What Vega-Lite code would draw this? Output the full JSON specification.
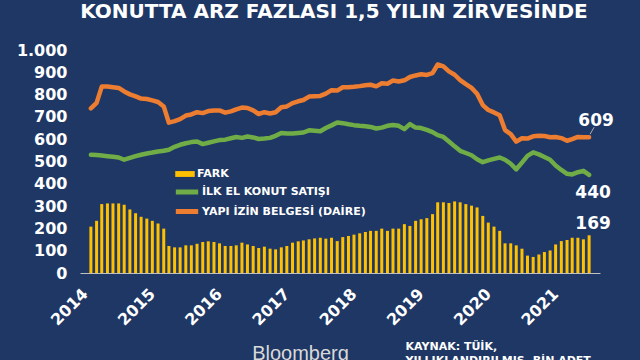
{
  "$schema": "https://vega.github.io/schema/vega-lite/v6.json",
  "autosize": {"type": "none"},
  "width": 520,
  "height": 223,
  "padding": {"left": 80, "top": 50, "right": 40, "bottom": 87},
  "background": "#1e3765",
  "title": {
    "text": "KONUTTA ARZ FAZLASI 1,5 YILIN ZİRVESİNDE",
    "font": "DejaVu Sans",
    "fontSize": 20,
    "fontWeight": "bold",
    "color": "white",
    "anchor": "middle",
    "dx": -6,
    "offset": 20
  },
  "config": {
    "view": {"stroke": null},
    "font": "DejaVu Sans",
    "axis": {"labelOverlap": false},
    "axisY": {"labelOverlap": false, "tickCount": 11}
  },
  "data": {
    "values": [
      {"d": "2014-01", "fark": 208, "satis": 530, "izin": 738},
      {"d": "2014-02", "fark": 234, "satis": 529, "izin": 763},
      {"d": "2014-03", "fark": 309, "satis": 527, "izin": 836},
      {"d": "2014-04", "fark": 312, "satis": 524, "izin": 836},
      {"d": "2014-05", "fark": 312, "satis": 521, "izin": 833},
      {"d": "2014-06", "fark": 312, "satis": 518, "izin": 830},
      {"d": "2014-07", "fark": 306, "satis": 508, "izin": 814},
      {"d": "2014-08", "fark": 285, "satis": 516, "izin": 801},
      {"d": "2014-09", "fark": 268, "satis": 524, "izin": 792},
      {"d": "2014-10", "fark": 252, "satis": 530, "izin": 782},
      {"d": "2014-11", "fark": 244, "satis": 536, "izin": 780},
      {"d": "2014-12", "fark": 234, "satis": 540, "izin": 774},
      {"d": "2015-01", "fark": 222, "satis": 545, "izin": 767},
      {"d": "2015-02", "fark": 199, "satis": 548, "izin": 747},
      {"d": "2015-03", "fark": 121, "satis": 553, "izin": 674},
      {"d": "2015-04", "fark": 115, "satis": 566, "izin": 681},
      {"d": "2015-05", "fark": 115, "satis": 575, "izin": 690},
      {"d": "2015-06", "fark": 124, "satis": 582, "izin": 706},
      {"d": "2015-07", "fark": 124, "satis": 587, "izin": 711},
      {"d": "2015-08", "fark": 131, "satis": 590, "izin": 721},
      {"d": "2015-09", "fark": 139, "satis": 578, "izin": 717},
      {"d": "2015-10", "fark": 142, "satis": 584, "izin": 726},
      {"d": "2015-11", "fark": 139, "satis": 590, "izin": 729},
      {"d": "2015-12", "fark": 133, "satis": 596, "izin": 729},
      {"d": "2016-01", "fark": 121, "satis": 598, "izin": 719},
      {"d": "2016-02", "fark": 121, "satis": 604, "izin": 725},
      {"d": "2016-03", "fark": 124, "satis": 610, "izin": 734},
      {"d": "2016-04", "fark": 136, "satis": 606, "izin": 742},
      {"d": "2016-05", "fark": 128, "satis": 612, "izin": 740},
      {"d": "2016-06", "fark": 121, "satis": 608, "izin": 729},
      {"d": "2016-07", "fark": 112, "satis": 601, "izin": 713},
      {"d": "2016-08", "fark": 118, "satis": 603, "izin": 721},
      {"d": "2016-09", "fark": 109, "satis": 606, "izin": 715},
      {"d": "2016-10", "fark": 106, "satis": 615, "izin": 721},
      {"d": "2016-11", "fark": 115, "satis": 628, "izin": 743},
      {"d": "2016-12", "fark": 121, "satis": 626, "izin": 747},
      {"d": "2017-01", "fark": 136, "satis": 626, "izin": 762},
      {"d": "2017-02", "fark": 142, "satis": 628, "izin": 770},
      {"d": "2017-03", "fark": 146, "satis": 630, "izin": 776},
      {"d": "2017-04", "fark": 151, "satis": 640, "izin": 791},
      {"d": "2017-05", "fark": 155, "satis": 638, "izin": 793},
      {"d": "2017-06", "fark": 158, "satis": 636, "izin": 794},
      {"d": "2017-07", "fark": 154, "satis": 650, "izin": 804},
      {"d": "2017-08", "fark": 158, "satis": 662, "izin": 820},
      {"d": "2017-09", "fark": 143, "satis": 675, "izin": 818},
      {"d": "2017-10", "fark": 161, "satis": 672, "izin": 833},
      {"d": "2017-11", "fark": 166, "satis": 667, "izin": 833},
      {"d": "2017-12", "fark": 172, "satis": 663, "izin": 835},
      {"d": "2018-01", "fark": 178, "satis": 660, "izin": 838},
      {"d": "2018-02", "fark": 184, "satis": 658, "izin": 842},
      {"d": "2018-03", "fark": 189, "satis": 655, "izin": 844},
      {"d": "2018-04", "fark": 189, "satis": 648, "izin": 837},
      {"d": "2018-05", "fark": 199, "satis": 652, "izin": 851},
      {"d": "2018-06", "fark": 189, "satis": 660, "izin": 849},
      {"d": "2018-07", "fark": 199, "satis": 664, "izin": 863},
      {"d": "2018-08", "fark": 199, "satis": 660, "izin": 859},
      {"d": "2018-09", "fark": 219, "satis": 645, "izin": 864},
      {"d": "2018-10", "fark": 211, "satis": 668, "izin": 879},
      {"d": "2018-11", "fark": 234, "satis": 652, "izin": 886},
      {"d": "2018-12", "fark": 241, "satis": 650, "izin": 891},
      {"d": "2019-01", "fark": 246, "satis": 642, "izin": 888},
      {"d": "2019-02", "fark": 264, "satis": 632, "izin": 896},
      {"d": "2019-03", "fark": 317, "satis": 618, "izin": 935},
      {"d": "2019-04", "fark": 317, "satis": 610, "izin": 927},
      {"d": "2019-05", "fark": 314, "satis": 590, "izin": 904},
      {"d": "2019-06", "fark": 321, "satis": 568, "izin": 889},
      {"d": "2019-07", "fark": 317, "satis": 548, "izin": 865},
      {"d": "2019-08", "fark": 309, "satis": 538, "izin": 847},
      {"d": "2019-09", "fark": 302, "satis": 528, "izin": 830},
      {"d": "2019-10", "fark": 294, "satis": 510, "izin": 804},
      {"d": "2019-11", "fark": 256, "satis": 497, "izin": 753},
      {"d": "2019-12", "fark": 226, "satis": 505, "izin": 731},
      {"d": "2020-01", "fark": 208, "satis": 512, "izin": 720},
      {"d": "2020-02", "fark": 189, "satis": 518, "izin": 707},
      {"d": "2020-03", "fark": 133, "satis": 508, "izin": 641},
      {"d": "2020-04", "fark": 133, "satis": 490, "izin": 623},
      {"d": "2020-05", "fark": 124, "satis": 465, "izin": 589},
      {"d": "2020-06", "fark": 109, "satis": 495, "izin": 604},
      {"d": "2020-07", "fark": 78, "satis": 525, "izin": 603},
      {"d": "2020-08", "fark": 72, "satis": 541, "izin": 613},
      {"d": "2020-09", "fark": 83, "satis": 532, "izin": 615},
      {"d": "2020-10", "fark": 94, "satis": 520, "izin": 614},
      {"d": "2020-11", "fark": 101, "satis": 508, "izin": 609},
      {"d": "2020-12", "fark": 128, "satis": 482, "izin": 610},
      {"d": "2021-01", "fark": 143, "satis": 462, "izin": 605},
      {"d": "2021-02", "fark": 148, "satis": 445, "izin": 593},
      {"d": "2021-03", "fark": 158, "satis": 442, "izin": 600},
      {"d": "2021-04", "fark": 158, "satis": 452, "izin": 610},
      {"d": "2021-05", "fark": 151, "satis": 458, "izin": 609},
      {"d": "2021-06", "fark": 169, "satis": 440, "izin": 609}
    ]
  },
  "layer": [
    {
      "mark": {"type": "bar", "size": 3, "color": "#ffc000"},
      "encoding": {
        "x": {
          "field": "d",
          "type": "temporal",
          "scale": {
            "type": "utc",
            "domain": [
              {"year": 2013, "month": 11, "date": 30, "utc": true},
              {"year": 2021, "month": 7, "date": 3, "utc": true}
            ]
          },
          "axis": {
            "values": [
              {"year": 2014, "utc": true},
              {"year": 2015, "utc": true},
              {"year": 2016, "utc": true},
              {"year": 2017, "utc": true},
              {"year": 2018, "utc": true},
              {"year": 2019, "utc": true},
              {"year": 2020, "utc": true},
              {"year": 2021, "utc": true}
            ],
            "format": "%Y",
            "labelAngle": -45,
            "labelAlign": "right",
            "labelBaseline": "middle",
            "labelPadding": 18,
            "labelOffset": -6,
            "labelOverlap": false,
            "labelFont": "DejaVu Sans",
            "labelFontSize": 16,
            "labelFontWeight": "bold",
            "labelColor": "white",
            "ticks": false,
            "grid": false,
            "domain": true,
            "domainColor": "#c0c0c0",
            "domainWidth": 1,
            "title": ["KAYNAK: TÜİK,", "YILLIKLANDIRILMIŞ, BİN ADET"],
            "titleX": 325,
            "titleY": 67,
            "titleAlign": "left",
            "titleBaseline": "top",
            "titleAngle": 0,
            "titleFont": "DejaVu Sans",
            "titleFontSize": 11,
            "titleFontWeight": "bold",
            "titleColor": "white",
            "titleLineHeight": 14
          }
        },
        "y": {
          "field": "fark",
          "type": "quantitative",
          "scale": {"domain": [0, 1000], "nice": false},
          "axis": {
            "values": [0, 100, 200, 300, 400, 500, 600, 700, 800, 900, 1000],
            "tickCount": 11,
            "labelExpr": "replace(datum.label, ',', '.')",
            "labelOverlap": false,
            "labelSeparation": 0,
            "labelFont": "DejaVu Sans",
            "labelFontSize": 16,
            "labelFontWeight": "bold",
            "labelColor": "white",
            "labelPadding": 13,
            "domain": false,
            "ticks": false,
            "grid": false,
            "title": "Bloomberg",
            "titleX": 220,
            "titleY": 303,
            "titleAngle": 0,
            "titleAlign": "center",
            "titleBaseline": "middle",
            "titleFont": "Liberation Sans",
            "titleFontSize": 20,
            "titleFontWeight": "normal",
            "titleColor": "#d9d9d9"
          }
        },
        "color": {
          "datum": "FARK",
          "scale": {"range": ["#ffc000"]},
          "legend": {
            "title": null,
            "orient": "none",
            "legendX": 95,
            "legendY": 114,
            "padding": 0,
            "symbolType": "M-1,-0.3H1V0.3H-1Z",
            "symbolSize": 380,
            "symbolStrokeWidth": 0,
            "labelOffset": 2,
            "labelLimit": 300,
            "labelFont": "DejaVu Sans",
            "labelFontSize": 11,
            "labelFontWeight": "bold",
            "labelColor": "white"
          }
        }
      }
    },
    {
      "transform": [{"fold": ["satis", "izin"], "as": ["s", "v"]}],
      "mark": {"type": "line", "strokeWidth": 4.5, "strokeCap": "round", "strokeJoin": "round"},
      "encoding": {
        "x": {"field": "d", "type": "temporal"},
        "y": {"field": "v", "type": "quantitative"},
        "color": {
          "field": "s",
          "type": "nominal",
          "scale": {"domain": ["satis", "izin"], "range": ["#70ad47", "#ed7d31"]},
          "legend": {
            "title": null,
            "orient": "none",
            "legendX": 93,
            "legendY": 133,
            "padding": 0,
            "symbolType": "stroke",
            "symbolSize": 500,
            "symbolStrokeWidth": 5,
            "clipHeight": 18,
            "rowPadding": 1.5,
            "labelOffset": 1,
            "labelLimit": 300,
            "labelFont": "DejaVu Sans",
            "labelFontSize": 11,
            "labelFontWeight": "bold",
            "labelColor": "white",
            "labelExpr": "datum.label == 'satis' ? 'İLK EL KONUT SATIŞI' : 'YAPI İZİN BELGESİ (DAİRE)'"
          }
        }
      }
    },
    {
      "transform": [{"filter": "utcyear(datum.d) == 2021 && utcmonth(datum.d) == 5"}],
      "mark": {"type": "rule", "color": "#b0b0b0", "strokeWidth": 1, "xOffset": 1, "x2Offset": 5, "yOffset": -3, "y2Offset": -10},
      "encoding": {
        "x": {"field": "d", "type": "temporal"},
        "x2": {"field": "d"},
        "y": {"field": "izin", "type": "quantitative"},
        "y2": {"field": "izin"}
      }
    },
    {
      "transform": [{"filter": "utcyear(datum.d) == 2021 && utcmonth(datum.d) == 5"}],
      "mark": {"type": "text", "dy": -16, "dx": 7, "font": "DejaVu Sans", "fontSize": 17, "fontWeight": "bold", "color": "white"},
      "encoding": {
        "x": {"field": "d", "type": "temporal"},
        "y": {"field": "izin", "type": "quantitative"},
        "text": {"field": "izin", "type": "quantitative"}
      }
    },
    {
      "transform": [{"filter": "utcyear(datum.d) == 2021 && utcmonth(datum.d) == 5"}],
      "mark": {"type": "text", "dy": 18, "dx": 4, "font": "DejaVu Sans", "fontSize": 17, "fontWeight": "bold", "color": "white"},
      "encoding": {
        "x": {"field": "d", "type": "temporal"},
        "y": {"field": "satis", "type": "quantitative"},
        "text": {"field": "satis", "type": "quantitative"}
      }
    },
    {
      "transform": [{"filter": "utcyear(datum.d) == 2021 && utcmonth(datum.d) == 5"}],
      "mark": {"type": "text", "dy": -11, "dx": 4, "font": "DejaVu Sans", "fontSize": 17, "fontWeight": "bold", "color": "white"},
      "encoding": {
        "x": {"field": "d", "type": "temporal"},
        "y": {"field": "fark", "type": "quantitative"},
        "text": {"field": "fark", "type": "quantitative"}
      }
    }
  ],
  "resolve": {"scale": {"color": "independent"}}
}
